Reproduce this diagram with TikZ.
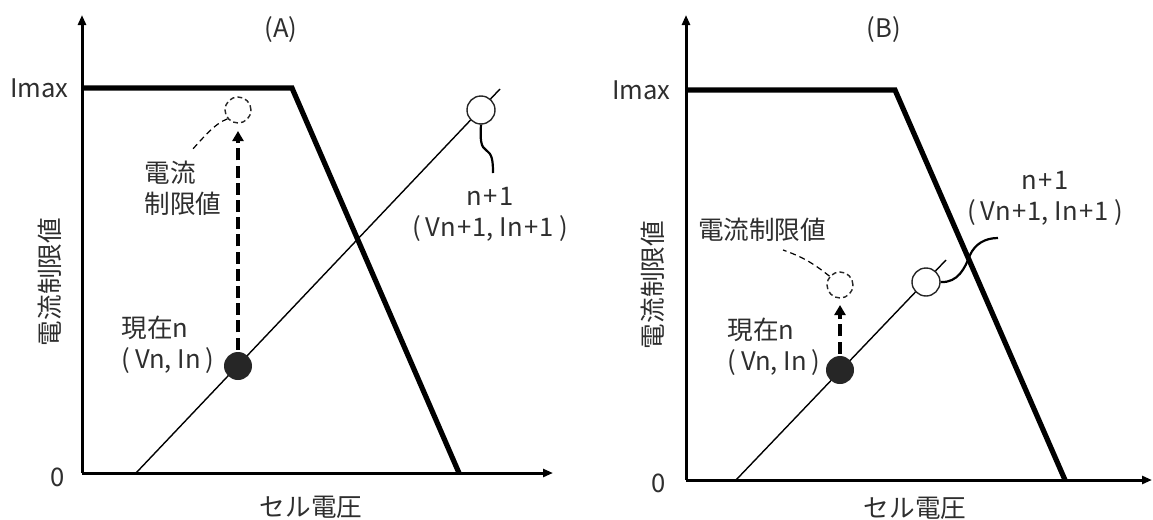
\documentclass[tikz,border=0pt]{standalone}
\usepackage{fontspec}
\setmainfont{Noto Sans CJK JP}
\usetikzlibrary{arrows.meta}
\newcommand{\lp}{(\kern2.5pt}
\newcommand{\rp}{\kern2.5pt)}
\newcommand{\pl}{\kern0.7pt+\kern0.7pt}
\begin{document}
\begin{tikzpicture}[x=0.5pt,y=-0.5pt,
  every node/.style={font=\fontsize{12.8}{15.5}\selectfont, text=black!82, inner sep=0pt},
  axisline/.style={line width=1.5pt, -{Triangle[length=5pt,width=4pt]}},
  limitline/.style={line width=2.6pt, line join=miter},
  loadline/.style={line width=0.7pt},
  nowpt/.style={circle, fill=black!85, minimum size=14pt},
  nextpt/.style={circle, draw=black!85, fill=white, line width=0.7pt, minimum size=14pt},
  limpt/.style={circle, draw=black!85, dash pattern=on 2.4pt off 1.6pt, line width=0.7pt, minimum size=13pt},
  uparrow/.style={line width=2pt, dash pattern=on 6pt off 2.6pt, -{Triangle[length=5pt,width=5.5pt]}, shorten <=1pt},
  dleader/.style={line width=0.6pt, dash pattern=on 3pt off 2pt},
  sleader/.style={line width=1.1pt}
]
\useasboundingbox (0,0) rectangle (1153,520);
% ---------- Panel A ----------
\coordinate (OA) at (82,473);
\coordinate (YA) at (82,15);
\coordinate (XA) at (553,473);
\draw[axisline] (OA) -- (YA);
\draw[axisline] (OA) -- (XA);
\coordinate (LA0) at (136,473);
\coordinate (LA1) at (500,89);
\draw[loadline] (LA0) -- (LA1);
\coordinate (IA0) at (82,88);
\coordinate (IA1) at (292,88);
\coordinate (IA2) at (459,473);
\draw[limitline] (IA0) -- (IA1) -- (IA2);
\node[nowpt] (nA) at (238,366) {};
\node[nextpt] (mA) at (481,110) {};
\node[limpt] (cA) at (238,110) {};
\coordinate (tipA) at (238,131);
\draw[uparrow] (nA.north) -- (tipA);
\coordinate (dlA) at (191,151);
\draw[dleader] (cA.220) .. controls (214,124) and (204,137) .. (dlA);
\coordinate (slA) at (493,173);
\draw[sleader] (mA.south) .. controls (480,140) and (481,147) .. (486,150) .. controls (492,154) and (493,160) .. (slA);
\node[anchor=center] (titA) at (281,30) {(A)};
\node[anchor=east] (imA) at (69,88) {Imax};
\node[anchor=center] (zA) at (58,477) {0};
\node[anchor=center] (xlA) at (311,507) {セル電圧};
\node[rotate=90, anchor=center] (ylA) at (50,282) {電流制限値};
\node[align=left, anchor=west] (limlA) at (144,188) {電流\\制限値};
\node[align=left, anchor=west] (nowlA) at (121,345) {現在n\\\lp Vn, In\rp};
\node[align=center, anchor=center] (nxtlA) at (490,214) {n\pl 1\\\lp Vn\pl 1, In\pl 1\rp};
% ---------- Panel B ----------
\coordinate (OB) at (686,480);
\coordinate (YB) at (686,15);
\coordinate (XB) at (1152,480);
\draw[axisline] (OB) -- (YB);
\draw[axisline] (OB) -- (XB);
\coordinate (LB0) at (736,480);
\coordinate (LB1) at (946,260);
\draw[loadline] (LB0) -- (LB1);
\coordinate (IB0) at (686,90);
\coordinate (IB1) at (895,90);
\coordinate (IB2) at (1065,480);
\draw[limitline] (IB0) -- (IB1) -- (IB2);
\node[nowpt] (nB) at (840,370) {};
\node[nextpt] (mB) at (926,282) {};
\node[limpt] (cB) at (840,285) {};
\coordinate (tipB) at (840,305);
\draw[uparrow] (nB.north) -- (tipB);
\coordinate (dlB) at (783,250);
\draw[dleader] (cB.140) .. controls (812,262) and (800,256) .. (dlB);
\coordinate (slB) at (998,238);
\draw[sleader] (mB.east) .. controls (958,283) and (965,268) .. (970,255) .. controls (975,244) and (985,238) .. (slB);
\node[anchor=center] (titB) at (884,30) {(B)};
\node[anchor=east] (imB) at (671,90) {Imax};
\node[anchor=center] (zB) at (659,483) {0};
\node[anchor=center] (xlB) at (915,508) {セル電圧};
\node[rotate=90, anchor=center] (ylB) at (653,285) {電流制限値};
\node[anchor=center] (limlB) at (762,230) {電流制限値};
\node[align=left, anchor=west] (nowlB) at (727,347) {現在n\\\lp Vn, In\rp};
\node[align=center, anchor=center] (nxtlB) at (1045,198) {n\pl 1\\\lp Vn\pl 1, In\pl 1\rp};
\end{tikzpicture}
\end{document}
